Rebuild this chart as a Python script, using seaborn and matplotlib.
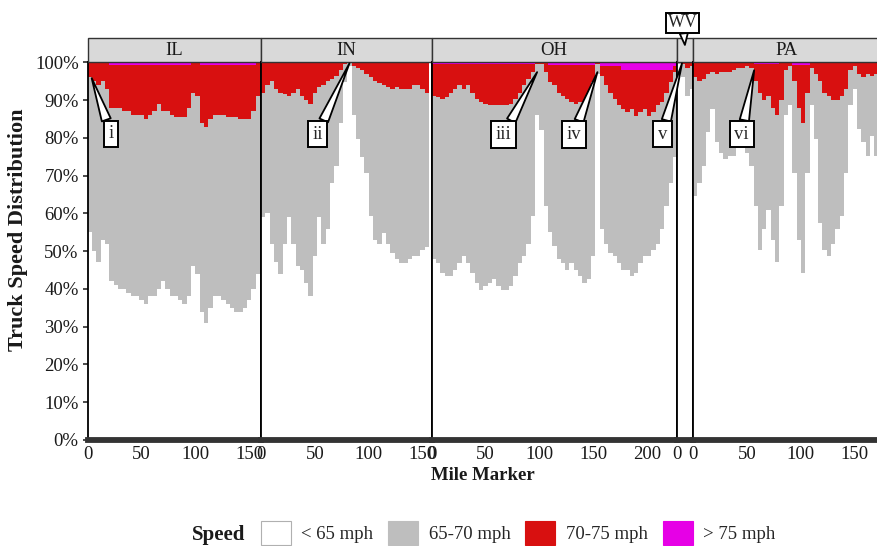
import numpy as np
import pandas as pd
import seaborn as sns
import matplotlib
matplotlib.use("Agg")
import matplotlib.pyplot as plt
from matplotlib.patches import Rectangle, Patch

# ---------------- data ----------------
# Each state: bin centres (mile marker, 4-mile bins), share < 65 mph,
# cumulative share <= 70 mph, and share > 75 mph (all in %).
states = ["IL", "IN", "OH", "WV", "PA"]

il_mile = [2, 6, 10, 14, 18, 22, 26, 30, 34, 38, 42, 46, 50, 54, 58, 62, 66, 70, 74, 78,
           82, 86, 90, 94, 98, 102, 106, 110, 114, 118, 122, 126, 130, 134, 138, 142, 146, 150, 154, 158]
il_below65 = [55, 50, 47, 53, 52, 42, 41, 40, 40, 39, 38, 38, 37, 36, 38, 38, 40, 42, 40, 38,
              38, 37, 36, 38, 46, 44, 34, 31, 35, 38, 38, 37, 36, 35, 34, 34, 35, 37, 40, 44]
il_below70 = [96, 95, 94, 95, 93, 88, 88, 88, 87, 87, 86, 86, 86, 85, 86, 87, 89, 87, 87, 86,
              85.5, 85.5, 85.5, 88, 92, 91, 84, 83, 85, 86, 86, 86, 85.5, 85.5, 85.5, 85, 85, 85, 87, 91]
il_above75 = [0, 0, 0, 0, 0, 0.6, 0.6, 0.6, 0.6, 0.6, 0.6, 0.6, 0.6, 0.6, 0.6, 0.6, 0.6, 0.6, 0.6, 0.6,
              0.6, 0.6, 0.6, 0.6, 0.3, 0.3, 0.7, 0.7, 0.7, 0.7, 0.7, 0.7, 0.7, 0.7, 0.7, 0.7, 0.7, 0.7, 0.7, 0.3]

in_mile = [2, 6, 10, 14, 18, 22, 26, 30, 34, 38, 42, 46, 50, 54, 58, 62, 66, 70, 74, 78,
           82, 86, 90, 94, 98, 102, 106, 110, 114, 118, 122, 126, 130, 134, 138, 142, 146, 150, 154]
in_below65 = [59, 60, 52, 47, 44, 52, 59, 52, 46, 45, 41.6, 38, 48.7, 59, 52, 55.8, 68, 72.6, 84, 94.8,
              99, 86, 79.7, 75, 70.8, 59.3, 53, 52, 54.9, 52, 49.6, 47.8, 46.9, 46.9, 47.8, 48.7, 48.7, 50.4, 51]
in_below70 = [92, 94, 95, 93, 92, 91.5, 91, 92, 93, 91, 90, 89, 92, 93.5, 94, 95, 95.5, 96.5, 98, 99.5,
              99.8, 99, 98.5, 98, 97, 96, 95, 94.5, 94, 93.5, 93, 93.5, 93, 93, 93, 94, 94, 93, 92]
in_above75 = [0, 0, 0, 0, 0, 0, 0, 0.3, 0.3, 0.3, 0.3, 0.3, 0, 0, 0, 0, 0, 0, 0, 0,
              0, 0, 0, 0, 0, 0, 0, 0, 0, 0, 0, 0, 0, 0, 0, 0, 0, 0, 0]

oh_mile = [2, 6, 10, 14, 18, 22, 26, 30, 34, 38, 42, 46, 50, 54, 58, 62, 66, 70, 74, 78,
           82, 86, 90, 94, 98, 102, 106, 110, 114, 118, 122, 126, 130, 134, 138, 142, 146, 150, 154, 158,
           162, 166, 170, 174, 178, 182, 186, 190, 194, 198, 202, 206, 210, 214, 218, 222, 226]
oh_below65 = [47.8, 46.9, 44.2, 43.4, 43.4, 45, 46.9, 48.7, 46.9, 44.2, 41.6, 39.8, 40.7, 41.6, 42.5,
              40.7, 39.8, 39.8, 40.7, 43.4, 46.9, 48.7, 52, 59.3, 86, 82, 62, 55, 51.3, 47.8,
              46.9, 45, 46.9, 45, 43.4, 41.6, 42.5, 48.7, 97, 55.8, 52, 49.6, 48.7, 46.9, 45,
              45, 43.4, 44.2, 46.9, 48.7, 48.7, 50.4, 52, 55.8, 62, 68, 75]
oh_below70 = [91.2, 90.8, 90.3, 90.8, 92, 93, 93.9, 93, 93.9, 92, 90.3, 89.5, 89, 88.6, 88.6,
              88.6, 88.6, 88.6, 89, 90.3, 92, 93.9, 95.7, 97.4, 99.5, 99.5, 97.4, 94.8, 93.9, 92,
              91.2, 90.3, 89.5, 89, 89.5, 88.6, 91.2, 94.8, 99.5, 96.5, 93.9, 92, 90.3, 88.6, 87.7,
              86.8, 87.7, 85.9, 86.8, 87.7, 85.9, 86.8, 88.6, 89.5, 92, 94.8, 97.4]
oh_above75 = [0.4, 0.4, 0.4, 0.4, 0.4, 0.4, 0.4, 0.5, 0.5, 0.5, 0.5, 0.5, 0.5, 0.5, 0.5,
              0.5, 0.5, 0.5, 0.5, 0.5, 0.5, 0.5, 0.5, 0.5, 0.2, 0.2, 0.2, 0.8, 0.8, 0.8,
              0.8, 0.8, 0.8, 0.8, 0.8, 0.8, 0.8, 0.8, 0.2, 1.0, 1.0, 1.0, 1.0, 1.0, 2.0,
              2.0, 2.0, 2.0, 2.0, 2.0, 2.0, 2.0, 2.0, 2.0, 2.0, 2.0, 1.0]

wv_mile = [2, 6, 10, 14]
wv_below65 = [99.5, 96, 91, 93]
wv_below70 = [100, 99.5, 98.5, 99]
wv_above75 = [0, 0, 0, 0]

pa_mile = [2, 6, 10, 14, 18, 22, 26, 30, 34, 38, 42, 46, 50, 54, 58, 62, 66, 70, 74, 78,
           82, 86, 90, 94, 98, 102, 106, 110, 114, 118, 122, 126, 130, 134, 138, 142, 146, 150, 154, 158,
           162, 166, 170]
pa_below65 = [64.6, 68, 72.6, 81.5, 87.7, 78.8, 76, 74.4, 75.3, 75.3, 78, 78, 76, 72.6, 62,
              50.4, 55.8, 61, 53, 47, 62, 86, 88.6, 70.8, 53, 44.2, 70.8, 88.6, 79.7, 57.5,
              50.4, 48.7, 52, 55.8, 59.3, 70.8, 88.6, 93, 82.4, 78.8, 75.3, 80.6, 75.3]
pa_below70 = [96, 95, 95.5, 97, 97.5, 97, 97.5, 97.5, 97.5, 98, 98.5, 98.5, 99, 98.5, 95,
              92, 90, 91, 88, 86, 90, 98, 99, 95, 88, 84, 92, 98.5, 97, 95,
              92, 91, 90, 90, 91, 93, 98, 99, 97, 96, 97, 96.5, 97]
pa_above75 = [0, 0, 0, 0, 0, 0, 0, 0, 0, 0, 0, 0, 0, 0, 0.5,
              0.5, 0.5, 0.5, 0.5, 0.5, 0, 0, 0, 0.7, 0.7, 0.7, 0.7, 0.1, 0.1, 0.1,
              0.1, 0.1, 0.1, 0.1, 0.1, 0.1, 0.1, 0.1, 0.1, 0.1, 0.1, 0.1, 0.1]

speed_labels = ["< 65 mph", "65-70 mph", "70-75 mph", "> 75 mph"]
speed_colors = ["#FFFFFF", "#BEBEBE", "#D81010", "#E600E6"]

state_data = {
    "IL": (il_mile, il_below65, il_below70, il_above75),
    "IN": (in_mile, in_below65, in_below70, in_above75),
    "OH": (oh_mile, oh_below65, oh_below70, oh_above75),
    "WV": (wv_mile, wv_below65, wv_below70, wv_above75),
    "PA": (pa_mile, pa_below65, pa_below70, pa_above75),
}
x_limits = {"IL": (0, 161), "IN": (0, 158.3), "OH": (0, 227.5), "WV": (0, 15.4), "PA": (0, 174)}
x_ticks = {"IL": [0, 50, 100, 150], "IN": [0, 50, 100, 150], "OH": [0, 50, 100, 150, 200],
           "WV": [0], "PA": [0, 50, 100, 150]}

# ---------------- style ----------------
sns.set_theme(style="white")
plt.rcParams["font.family"] = ["Liberation Serif", "DejaVu Serif"]
plt.rcParams["axes.linewidth"] = 1.2

W, H = 877, 546
fig = plt.figure(figsize=(W / 100, H / 100), dpi=100)

px_per_mile = 1.077
left_px = 87.7
top_px, bottom_px = 62.3, 440.0
ax_h = (bottom_px - top_px) / H
ax_b = (H - bottom_px) / H
strip_h_px = 24.3
TXT = "#1a1a1a"

axes = {}
cur = left_px
for st in states:
    lo, hi = x_limits[st]
    w_px = (hi - lo) * px_per_mile
    ax = fig.add_axes([cur / W, ax_b, w_px / W, ax_h])
    axes[st] = ax
    cur += w_px

    miles, b65, b70, a75 = state_data[st]
    df = pd.DataFrame({"mile": miles, "lt65": b65, "b70": b70, "gt75": a75})
    df["c1"] = df["lt65"]
    df["c2"] = df["b70"]
    df["c3"] = 100 - df["gt75"]
    df["c4"] = df["c3"] + df["gt75"]
    # overlay cumulative bars: top layer first
    for col, colr in zip(["c4", "c3", "c2", "c1"], speed_colors[::-1]):
        sns.barplot(data=df, x="mile", y=col, native_scale=True, width=1.0,
                    color=colr, saturation=1, errorbar=None, linewidth=0,
                    edgecolor="none", ax=ax)
    ax.set_xlim(*x_limits[st])
    ax.set_ylim(0, 100)
    ax.set_xlabel("")
    ax.set_ylabel("")
    ax.set_facecolor("white")
    ax.set_xticks(x_ticks[st])
    ax.set_xticklabels([str(t) for t in x_ticks[st]])
    ax.tick_params(axis="x", length=2, pad=2.5, labelsize=13.5, colors=TXT, width=0.8)
    for sp in ["left", "right", "top"]:
        ax.spines[sp].set_color("black")
        ax.spines[sp].set_linewidth(1.3)
    ax.spines["bottom"].set_color("#333333")
    ax.spines["bottom"].set_linewidth(4.2)
    if st == "IL":
        ax.set_yticks(np.arange(0, 101, 10))
        ax.set_yticklabels([f"{v}%" for v in range(0, 101, 10)])
        ax.tick_params(axis="y", length=3.5, width=1.1, pad=3, labelsize=13.5,
                       colors=TXT, left=True)
    else:
        ax.set_yticks([])
    # facet strip
    sh = strip_h_px / (bottom_px - top_px)
    ax.add_patch(Rectangle((0, 1), 1, sh, transform=ax.transAxes, clip_on=False,
                           facecolor="#D9D9D9", edgecolor="#333333", linewidth=1.0, zorder=5))
    if st != "WV":
        ax.text(0.5, 1 + sh / 2, st, transform=ax.transAxes, ha="center", va="center",
                fontsize=13.5, color=TXT, zorder=6)
    if st == "PA":
        ax.spines["right"].set_visible(False)

# callout annotations (point in data coords, text offset in points)
callouts = [("IL", "i", 3.7, 95.8, 14, -40),
            ("IN", "ii", 82, 99.7, -23, -51),
            ("OH", "iii", 98, 97.4, -24, -45),
            ("OH", "iv", 154, 97.4, -17, -45),
            ("WV", "v", 5, 99.7, -14, -51),
            ("PA", "vi", 56.6, 97.9, -9, -46)]
for st, lab, mx, my, dx, dy in callouts:
    axes[st].annotate(lab, xy=(mx, my), xytext=(dx, dy), textcoords="offset points",
                      ha="center", va="center", fontsize=13.5, annotation_clip=False,
                      bbox=dict(boxstyle="square,pad=0.25", fc="white", ec="black", lw=1.4),
                      arrowprops=dict(arrowstyle="wedge,tail_width=0.5", fc="white",
                                      ec="black", lw=1.3, shrinkA=0, shrinkB=0),
                      zorder=20)

# WV strip label as callout above the narrow strip
axes["WV"].annotate("WV", xy=(0.5, 1.046), xycoords="axes fraction", xytext=(-1.5, 16),
                    textcoords="offset points", ha="center", va="center", fontsize=13,
                    annotation_clip=False,
                    bbox=dict(boxstyle="square,pad=0.08", fc="white", ec="black", lw=1.4),
                    arrowprops=dict(arrowstyle="wedge,tail_width=0.45", fc="white", ec="black",
                                    lw=1.3, shrinkA=0, shrinkB=0),
                    zorder=20)

# axis titles
fig.text(18 / W, 1 - 230 / H, "Truck Speed Distribution", rotation=90, ha="center",
         va="center", fontsize=16, fontweight="bold", color=TXT)
fig.text(483 / W, 1 - 476 / H, "Mile Marker", ha="center", va="center", fontsize=13.5,
         fontweight="bold", color=TXT)

# legend
handles = [Patch(facecolor=c, edgecolor=("#B0B0B0" if c == "#FFFFFF" else c), linewidth=0.8)
           for c in speed_colors]
fig.legend(handles, speed_labels, loc="center", bbox_to_anchor=(518 / W, 1 - 533 / H),
           ncol=4, frameon=False, handlelength=1.6, handleheight=1.55, handletextpad=0.55,
           columnspacing=0.8, fontsize=13.5)
fig.text(245 / W, 1 - 535 / H, "Speed", ha="right", va="center", fontsize=15,
         fontweight="bold", color=TXT)

fig.savefig("out.png", dpi=100)
